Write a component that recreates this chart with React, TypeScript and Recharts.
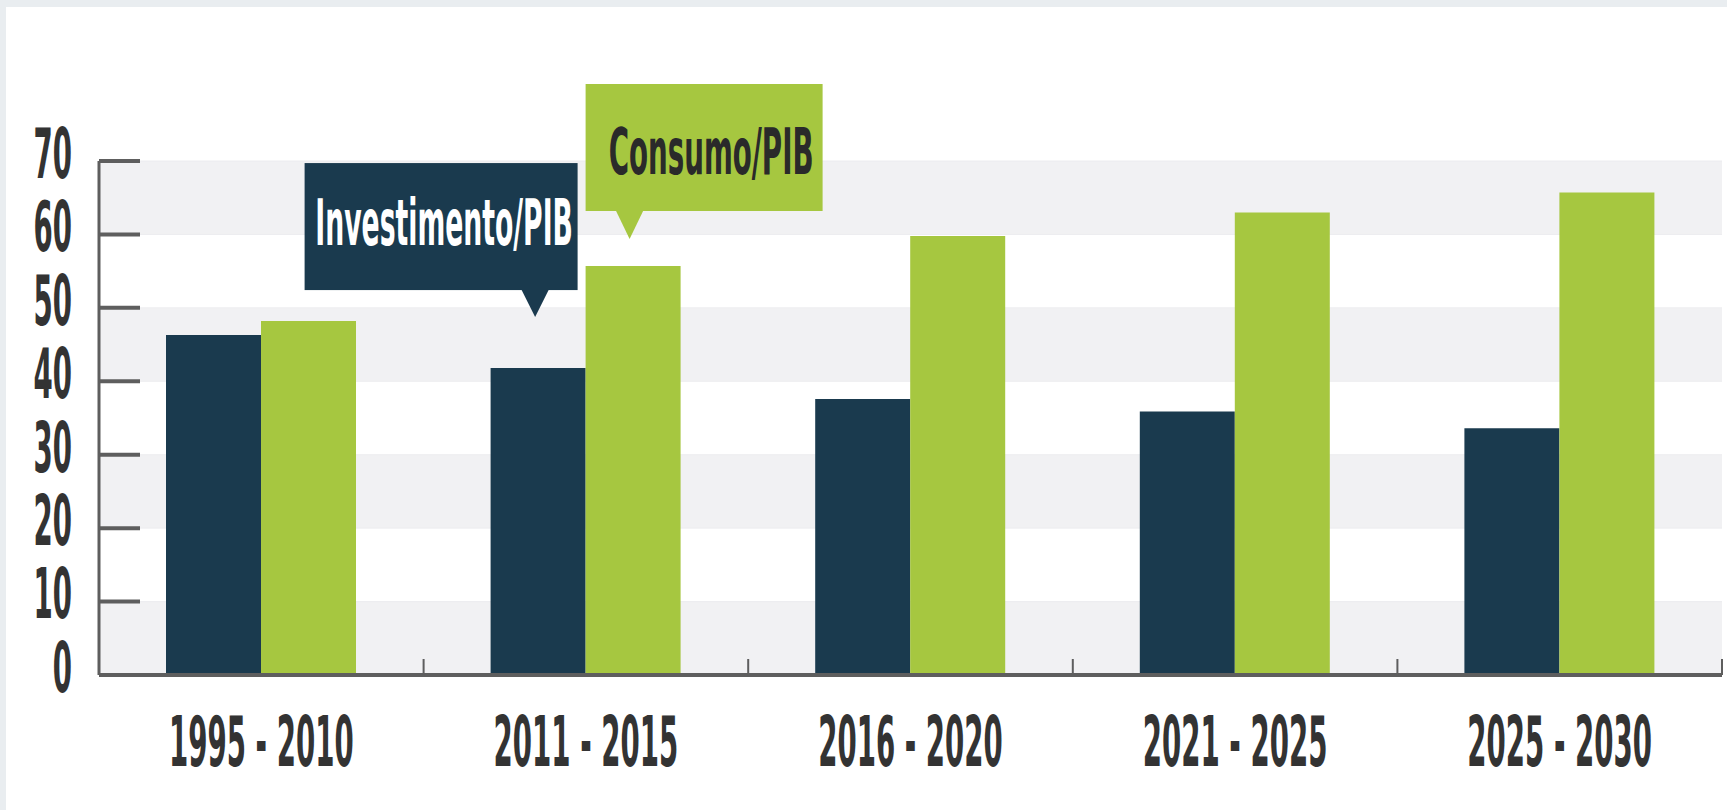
import { BarChart, Bar, XAxis, YAxis, CartesianGrid, LabelList } from "recharts";

// periodos e valores (% do PIB)
const periods = ["1995 - 2010", "2011 - 2015", "2016 - 2020", "2021 - 2025", "2025 - 2030"];
const investimento = [46.3, 41.8, 37.6, 35.9, 33.6];
const consumo = [48.2, 55.7, 59.8, 63.0, 65.7];
const yTicks = [0, 10, 20, 30, 40, 50, 60, 70];

const invName = "Investimento/PIB";
const conName = "Consumo/PIB";
const calloutIndex = 1; // os baloes apontam para 2011 - 2015

const NAVY = "#1a3a4e";
const GREEN = "#a6c740";
const AXIS = "#5e5e5e";
const FONT = "'DejaVu Sans Condensed', 'DejaVu Sans', sans-serif";
// a fonte original e bem condensada e alta
const STRETCH_Y = 1.68;
const NUM_X = 0.75;

const W = 1727;
const H = 810;
const AXIS_W = 99;
const RIGHT = 5;
const band = (W - AXIS_W - RIGHT) / periods.length;

const data = periods.map((p, i) => ({ period: p, inv: investimento[i], con: consumo[i] }));

function YTick({ x, y, payload }: any) {
  return (
    <g>
      <line x1={x + 27} x2={x + 68} y1={y} y2={y} stroke={AXIS} strokeWidth={4} />
      <text
        transform={`translate(${x},${y}) scale(${NUM_X},${STRETCH_Y})`}
        y={10}
        textAnchor="end"
        fontFamily={FONT}
        fontWeight={700}
        fontSize={41}
        fill="#333"
      >
        {payload.value}
      </text>
    </g>
  );
}

function XTick({ x, y, payload }: any) {
  return (
    <g>
      <line x1={x + band / 2} x2={x + band / 2} y1={y} y2={y - 16} stroke={AXIS} strokeWidth={2} />
      <text
        transform={`translate(${x},${y}) scale(${NUM_X},${STRETCH_Y})`}
        y={54}
        textAnchor="middle"
        fontFamily={FONT}
        fontWeight={700}
        fontSize={41}
        fill="#333"
      >
        {payload.value}
      </text>
    </g>
  );
}

function barBox(props: any) {
  const vb = props.viewBox ?? {};
  return {
    x: props.x ?? vb.x,
    y: props.y ?? vb.y,
    width: props.width ?? vb.width,
  };
}

function InvCallout(props: any) {
  if (props.index !== calloutIndex) return null;
  const { x, y, width } = barBox(props);
  const tipX = x + width / 2 - 3;
  const tipY = y - 51;
  const boxBottom = tipY - 27;
  const boxW = 273;
  const boxH = 127;
  const boxLeft = x + width - 8 - boxW;
  const boxTop = boxBottom - boxH;
  return (
    <g>
      <rect x={boxLeft} y={boxTop} width={boxW} height={boxH} fill={NAVY} />
      <polygon points={`${tipX - 14},${boxBottom - 1} ${tipX + 14},${boxBottom - 1} ${tipX},${tipY}`} fill={NAVY} />
      <text
        transform={`translate(${boxLeft + boxW / 2 + 3},${boxTop + 82}) scale(0.78,1.7)`}
        textAnchor="middle"
        fontFamily={FONT}
        fontWeight={700}
        fontSize={38}
        fill="#ffffff"
      >
        {invName}
      </text>
    </g>
  );
}

function ConCallout(props: any) {
  if (props.index !== calloutIndex) return null;
  const { x, y } = barBox(props);
  const tipX = x + 44;
  const tipY = y - 27;
  const boxBottom = tipY - 28;
  const boxW = 237;
  const boxH = 127;
  const boxLeft = x;
  const boxTop = boxBottom - boxH;
  return (
    <g>
      <rect x={boxLeft} y={boxTop} width={boxW} height={boxH} fill={GREEN} />
      <polygon points={`${tipX - 14},${boxBottom - 1} ${tipX + 14},${boxBottom - 1} ${tipX},${tipY}`} fill={GREEN} />
      <text
        transform={`translate(${boxLeft + boxW / 2 + 7},${boxTop + 90}) scale(0.81,1.7)`}
        textAnchor="middle"
        fontFamily={FONT}
        fontWeight={700}
        fontSize={38}
        fill="#2a2a2a"
      >
        {conName}
      </text>
    </g>
  );
}

export default function App() {
  return (
    <div style={{ position: "absolute", left: 0, top: 0, width: W, height: H, background: "#e9edf0" }}>
      <div style={{ position: "absolute", left: 6, top: 7, right: 0, bottom: 0, background: "#ffffff" }} />
      <div style={{ position: "absolute", left: 0, top: 0 }}>
        <BarChart
          width={W}
          height={H}
          data={data}
          margin={{ top: 161, right: RIGHT, left: 0, bottom: 0 }}
          barGap={0}
          barSize={95}
        >
          <CartesianGrid
            vertical={false}
            horizontalFill={["#f1f1f3", "#ffffff"]}
            stroke="#ececef"
          />
          <XAxis
            dataKey="period"
            height={135}
            tickSize={0}
            tickMargin={0}
            tickLine={false}
            axisLine={{ stroke: AXIS, strokeWidth: 4 }}
            tick={<XTick />}
            interval={0}
          />
          <YAxis
            width={AXIS_W}
            domain={[0, 70]}
            ticks={yTicks}
            tickSize={0}
            tickMargin={27}
            tickLine={false}
            axisLine={{ stroke: AXIS, strokeWidth: 3 }}
            tick={<YTick />}
            interval={0}
          />
          <Bar dataKey="inv" name={invName} fill={NAVY} isAnimationActive={false}>
            <LabelList dataKey="inv" content={InvCallout} />
          </Bar>
          <Bar dataKey="con" name={conName} fill={GREEN} isAnimationActive={false}>
            <LabelList dataKey="con" content={ConCallout} />
          </Bar>
        </BarChart>
      </div>
    </div>
  );
}
